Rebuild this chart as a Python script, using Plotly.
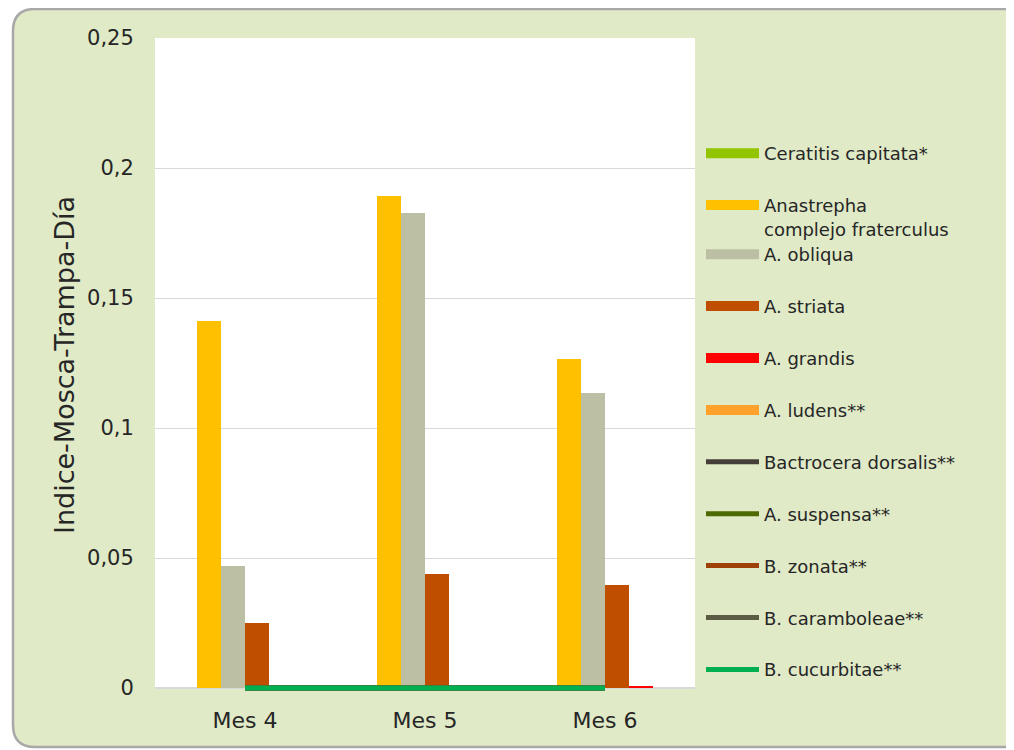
import plotly.graph_objects as go

categories = ["Mes 4", "Mes 5", "Mes 6"]

bar_names = ["Ceratitis capitata*", "Anastrepha<br>complejo fraterculus", "A. obliqua",
             "A. striata", "A. grandis", "A. ludens**"]
bar_values = [
    [0, 0, 0],
    [0.1412, 0.1892, 0.1265],
    [0.0469, 0.1827, 0.1135],
    [0.0250, 0.0438, 0.0396],
    [0, 0, 0.0004],
    [0, 0, 0],
]
bar_colors = ["#92C500", "#FFC000", "#BCBFA4", "#BF4E00", "#FF0000", "#FFA12B"]

line_names = ["Bactrocera dorsalis**", "A. suspensa**", "B. zonata**",
              "B. caramboleae**", "B. cucurbitae**"]
line_values = [
    [0, 0, 0],
    [0, 0, 0],
    [0, 0, 0],
    [0, 0, 0],
    [0, 0, 0],
]
line_colors = ["#463E38", "#4E6A02", "#9E4106", "#5C5B44", "#00B050"]

y_tickvals = [0, 0.05, 0.1, 0.15, 0.2, 0.25]
y_ticktext = ["0", "0,05", "0,1", "0,15", "0,2", "0,25"]

FONT = "DejaVu Sans"
TXT = "#262626"
OFF = 8  # page body margin
YMAX = 0.25
EXTRA_PX = 4  # room below zero so the zero-level lines are not clipped
PX_PER_UNIT = (688 - 38) / YMAX
YMIN = -EXTRA_PX / PX_PER_UNIT

W, H = 1014 - OFF, 750 - OFF
L, R, T, B = 155 - OFF, 695 - OFF, 38 - OFF, 688 + EXTRA_PX - OFF


def px2x(px):
    return (px - OFF - L) / (R - L)


def py2y(py):
    return (B - (py - OFF)) / (B - T)


fig = go.Figure()

for i, (n, v, c) in enumerate(zip(bar_names, bar_values, bar_colors)):
    lg = "legend" if i < 2 else "legend2"
    fig.add_trace(go.Bar(x=categories, y=v, name=n, marker=dict(color=c, line=dict(width=0)),
                         showlegend=False, legendgroup=f"g{i}", legend=lg))
    # legend entry with a wide rectangle symbol
    fig.add_trace(go.Scatter(x=[None], y=[None], mode="lines", name=n,
                             line=dict(color=c, width=11), legendgroup=f"g{i}",
                             legend=lg, hoverinfo="skip"))

for j, (n, v, c) in enumerate(zip(line_names, line_values, line_colors)):
    fig.add_trace(go.Scatter(x=categories, y=v, name=n, mode="lines",
                             line=dict(color=c, width=5), legendgroup=f"l{j}",
                             legend="legend2"))

# rounded background panel (reference pixel coordinates)
x0, y0, x1, y1, r = 13, 9, 1100, 747, 22
path = (f"M {px2x(x0+r)},{py2y(y0)} L {px2x(x1-r)},{py2y(y0)} "
        f"Q {px2x(x1)},{py2y(y0)} {px2x(x1)},{py2y(y0+r)} "
        f"L {px2x(x1)},{py2y(y1-r)} Q {px2x(x1)},{py2y(y1)} {px2x(x1-r)},{py2y(y1)} "
        f"L {px2x(x0+r)},{py2y(y1)} Q {px2x(x0)},{py2y(y1)} {px2x(x0)},{py2y(y1-r)} "
        f"L {px2x(x0)},{py2y(y0+r)} Q {px2x(x0)},{py2y(y0)} {px2x(x0+r)},{py2y(y0)} Z")
fig.add_shape(type="path", path=path, xref="paper", yref="paper", layer="below",
              fillcolor="#E0EAC6", line=dict(color="#A8A8A8", width=2.5))
# white plot area from 0 to the top of the axis
fig.add_shape(type="rect", x0=0, x1=1, y0=0, y1=YMAX, xref="paper", yref="y",
              layer="below", fillcolor="white", line=dict(width=0))

legend_common = dict(xanchor="left", yanchor="top", bgcolor="rgba(0,0,0,0)",
                     font=dict(size=18, family=FONT, color=TXT), itemwidth=53,
                     tracegroupgap=25.5, traceorder="grouped", valign="top")

fig.update_layout(
    width=W, height=H,
    margin=dict(l=L, r=W - R, t=T, b=H - B, autoexpand=False),
    paper_bgcolor="white", plot_bgcolor="rgba(0,0,0,0)",
    barmode="group", bargap=0.2, bargroupgap=0,
    separators=",.",
    font=dict(family=FONT, color=TXT, size=18),
    showlegend=True,
    legend=dict(x=px2x(701), y=py2y(135), **legend_common),
    legend2=dict(x=px2x(701), y=py2y(236), **legend_common),
    xaxis=dict(range=[-0.5, 2.5], showgrid=False, showline=False,
               ticks="outside", ticklen=13 - EXTRA_PX, tickcolor="rgba(0,0,0,0)",
               tickfont=dict(size=22, family=FONT, color=TXT), fixedrange=True),
    yaxis=dict(range=[YMIN, YMAX], tickvals=y_tickvals, ticktext=y_ticktext,
               showgrid=True, gridcolor="#D9D9D9", gridwidth=1,
               zeroline=True, zerolinecolor="#D9D9D9", zerolinewidth=2,
               showline=False, ticks="outside", ticklen=16, tickcolor="rgba(0,0,0,0)",
               tickfont=dict(size=21, family=FONT, color=TXT),
               title=dict(text="Indice-Mosca-Trampa-Día",
                          font=dict(size=27, family=FONT, color=TXT), standoff=4)),
)

fig.write_html("out.html")
